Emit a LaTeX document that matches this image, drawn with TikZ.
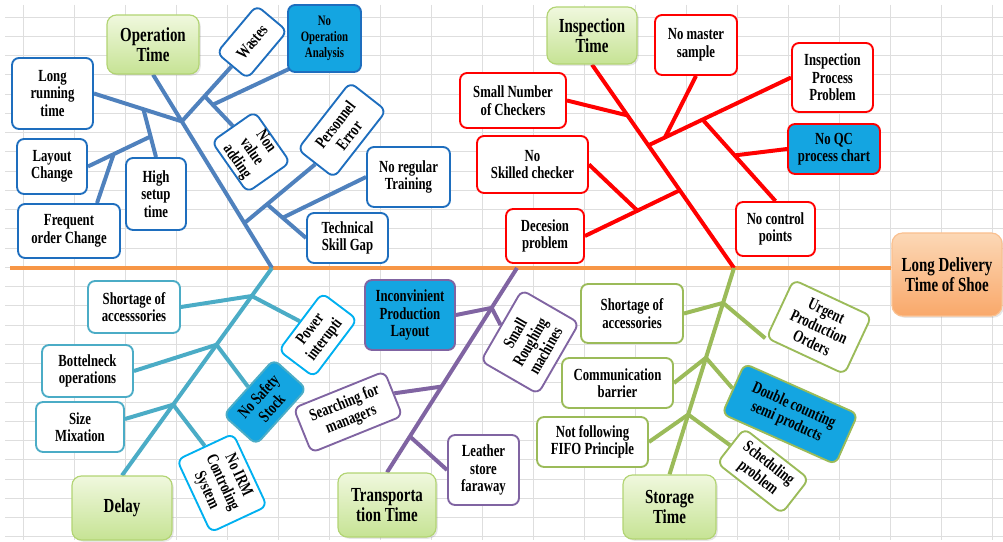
\documentclass[tikz,border=0pt]{standalone}
\usepackage{fontspec}
\setmainfont{Liberation Serif}[FakeStretch=0.75]
\usetikzlibrary{calc,shadows}

\definecolor{gridgray}{RGB}{222,222,222}
\definecolor{spineor}{RGB}{247,150,70}
\definecolor{opline}{RGB}{79,129,189}
\definecolor{opedge}{RGB}{30,110,190}
\definecolor{dlline}{RGB}{75,172,198}
\definecolor{dlbright}{RGB}{0,176,240}
\definecolor{trline}{RGB}{128,100,162}
\definecolor{stline}{RGB}{155,187,89}
\definecolor{hotblue}{RGB}{20,165,225}
\definecolor{titletop}{RGB}{240,248,222}
\definecolor{titlebot}{RGB}{198,227,148}
\definecolor{titleedge}{RGB}{178,212,115}
\definecolor{headtop}{RGB}{252,216,182}
\definecolor{headbot}{RGB}{249,168,106}
\definecolor{headedge}{RGB}{250,192,143}

\pgfdeclarelayer{grid}
\pgfdeclarelayer{bones}
\pgfsetlayers{grid,bones,main}

\begin{document}
\begin{tikzpicture}[
        x                   = 0.03cm,
        y                   = -0.03cm,
        cause/.style        = {draw=#1, line width=1.6pt, rounded corners=6pt, fill=white,
                               align=center, inner sep=1pt,
                               font=\bfseries\fontsize{14.5}{15}\selectfont},
        causehot/.style     = {cause=#1, fill=hotblue},
        bonetitle/.style    = {draw=titleedge, line width=1pt, rounded corners=8pt,
                               top color=titletop, bottom color=titlebot, align=center,
                               font=\bfseries\fontsize{17}{17.5}\selectfont,
                               drop shadow={opacity=0.2, shadow xshift=1.5pt, shadow yshift=-1.5pt}},
        effect/.style       = {draw=headedge, line width=1pt, rounded corners=9pt,
                               top color=headtop, bottom color=headbot, align=center,
                               font=\bfseries\fontsize{17}{17.5}\selectfont,
                               drop shadow={opacity=0.2, shadow xshift=1.5pt, shadow yshift=-1.5pt}},
        wh/.style 2 args    = {minimum width=#1*0.03cm, minimum height=#2*0.03cm},
        bone/.style         = {draw=#1, line width=3.4pt},
        gridline/.style     = {draw=gridgray, line width=0.7pt},
      ]
    \useasboundingbox (0,0) rectangle (1003,542);

    % sheet grid
    \begin{pgfonlayer}{grid}
        \foreach \gx in {0,...,19} \draw[gridline] (23+51*\gx,5) -- (23+51*\gx,540);
        \foreach \gy in {0,...,27} \draw[gridline] (5,17+19.25*\gy) -- (1003,17+19.25*\gy);
    \end{pgfonlayer}

    % effect
    \node[effect, wh={110}{83}] (head) at (947,274.5) {Long Delivery\\Time of Shoe};

    % Operation Time
    \node[bonetitle, wh={92}{59}] (optime) at (153,44.5) {Operation\\Time};
    \node[cause=opedge, wh={81}{71}] (longrun) at (52.5,93.5) {Long\\running\\time};
    \node[cause=opedge, wh={70}{55}] (layout) at (52,166.5) {Layout\\Change};
    \node[cause=opedge, wh={60}{72}] (setup) at (156,194) {High\\setup\\time};
    \node[cause=opedge, wh={102}{54}] (frequent) at (69,231) {Frequent\\order Change};
    \node[cause=opedge, wh={62}{40}, rotate=50] (wastes) at (252,42) {Wastes};
    \node[causehot=opedge, wh={73}{67}, font=\bfseries\fontsize{12.3}{13.5}\selectfont] (noopana) at (324.5,38.5) {No\\Operation\\Analysis};
    \node[cause=opedge, wh={62}{51}, rotate=-55] (nonvalue) at (251,152) {Non\\value\\adding};
    \node[cause=opedge, wh={85}{46}, rotate=52] (personnel) at (342,130) {Personnel\\Error};
    \node[cause=opedge, wh={83}{60}] (training) at (408.5,177) {No regular\\Training};
    \node[cause=opedge, wh={81}{50}] (skillgap) at (347.5,238) {Technical\\Skill Gap};

    % Inspection Time
    \node[bonetitle, wh={90}{57}] (insptime) at (592,35.5) {Inspection\\Time};
    \node[cause=red, wh={106}{55}] (checkers) at (513,100.5) {Small Number\\of Checkers};
    \node[cause=red, wh={111}{57}] (skilled) at (532.5,164.5) {No\\Skilled checker};
    \node[cause=red, wh={78}{54}] (decesion) at (545,236) {Decesion\\problem};
    \node[cause=red, wh={82}{60}] (master) at (696,45) {No master\\sample};
    \node[cause=red, wh={81}{69}] (process) at (832.5,77.5) {Inspection\\Process\\Problem};
    \node[causehot=red, wh={92}{50}] (qcchart) at (834,149) {No QC\\process chart};
    \node[cause=red, wh={79}{54}] (control) at (775.5,229) {No control\\points};

    % Delay
    \node[bonetitle, wh={100}{64}] (delay) at (122,508) {Delay};
    \node[cause=dlline, wh={92}{52}] (shortdl) at (134,307) {Shortage of\\accesssories};
    \node[cause=dlline, wh={91}{52}] (bottleneck) at (87.5,371) {Bottelneck\\operations};
    \node[cause=dlline, wh={88}{50}] (sizemix) at (80,427) {Size\\Mixation};
    \node[cause=dlbright, wh={72}{44}, rotate=53] (power) at (318,335) {Power\\interupti};
    \node[causehot=dlline, wh={75}{44}, rotate=48] (safety) at (265,402) {No Safety\\Stock};
    \node[cause=dlbright, wh={80}{62}, rotate=-65] (irm) at (222,483) {No IRM\\Controling\\System};

    % Transportation Time
    \node[bonetitle, wh={98}{64}] (transport) at (387,505) {Transporta\\tion Time};
    \node[causehot=trline, wh={90}{70}] (inconv) at (410,315) {Inconvinient\\Production\\Layout};
    \node[cause=trline, wh={82}{66}, rotate=60] (roughing) at (530,342) {Small\\Roughing\\machines};
    \node[cause=trline, wh={98}{48}, rotate=22] (searching) at (348,412) {Searching for\\managers};
    \node[cause=trline, wh={71}{70}] (leather) at (483.5,470) {Leather\\store\\faraway};

    % Storage Time
    \node[bonetitle, wh={93}{64}] (storage) at (669.5,507) {Storage\\Time};
    \node[cause=stline, wh={102}{59}] (shortst) at (632,313.5) {Shortage of\\accessories};
    \node[cause=stline, wh={111}{50}] (commbar) at (617.5,383) {Communication\\barrier};
    \node[cause=stline, wh={111}{50}] (fifo) at (592.5,442) {Not following\\FIFO Principle};
    \node[cause=stline, wh={86}{64}, rotate=-25] (urgent) at (819,327) {Urgent\\Production\\Orders};
    \node[causehot=stline, wh={124}{55}, rotate=-24] (doublecnt) at (790,414) {Double counting\\semi products};
    \node[cause=stline, wh={82}{44}, rotate=-38] (schedule) at (763,471) {Scheduling\\problem};

    \begin{pgfonlayer}{bones}
        % spine
        \coordinate (tail) at (10,268);
        \coordinate (jop) at (272,268);
        \coordinate (jtr) at (517,268);
        \coordinate (jin) at (734,268);
        \draw[bone=spineor] (tail) -- (tail -| head.west);

        % Operation Time bones
        \draw[bone=opline] (optime.south) -- (jop);
        \coordinate (op1) at ($(optime.south)!0.242!(jop)$);
        \coordinate (op2) at ($(optime.south)!0.768!(jop)$);
        \draw[bone=opline] (longrun.east) -- (op1);
        \coordinate (op3) at ($(longrun.east)!0.563!(op1)$);
        \draw[bone=opline] (op3) -- (setup.north);
        \coordinate (op4) at ($(op3)!0.57!(setup.north)$);
        \draw[bone=opline] (layout.east) -- (op4);
        \coordinate (op5) at ($(layout.east)!0.41!(op4)$);
        \draw[bone=opline] (op5) -- ($(frequent.north)+(28,0)$);
        \draw[bone=opline] (op1) -- (wastes.west);
        \coordinate (op6) at ($(op1)!0.46!(wastes.west)$);
        \draw[bone=opline] (op6) -- (nonvalue.west);
        \coordinate (op7) at ($(op6)!0.29!(nonvalue.west)$);
        \draw[bone=opline] (op7) -- ($(noopana.south west)+(2,-4)$);
        \draw[bone=opline] (op2) -- (personnel.west);
        \coordinate (op8) at ($(op2)!0.32!(personnel.west)$);
        \draw[bone=opline] (op8) -- (skillgap.west);
        \coordinate (op9) at ($(op8)!0.4!(skillgap.west)$);
        \draw[bone=opline] (op9) -- (training.west);

        % Inspection Time bones
        \draw[bone=red] (insptime.south) -- (jin);
        \coordinate (in1) at ($(insptime.south)!0.25!(jin)$);
        \coordinate (in2) at ($(insptime.south)!0.397!(jin)$);
        \coordinate (in3) at ($(insptime.south)!0.618!(jin)$);
        \draw[bone=red] (checkers.east) -- (in1);
        \draw[bone=red] (in2) -- (process.west);
        \coordinate (in4) at ($(in2)!0.116!(process.west)$);
        \draw[bone=red] (in4) -- (master.south);
        \coordinate (in5) at ($(in2)!0.38!(process.west)$);
        \draw[bone=red] (in5) -- (control.north);
        \coordinate (in6) at ($(in5)!0.44!(control.north)$);
        \draw[bone=red] (in6) -- (qcchart.west);
        \draw[bone=red] (in3) -- (decesion.east);
        \coordinate (in7) at ($(in3)!0.446!(decesion.east)$);
        \draw[bone=red] (in7) -- (skilled.east);

        % Delay bones
        \draw[bone=dlline] (delay.north) -- (jop);
        \coordinate (dl1) at ($(delay.north)!0.865!(jop)$);
        \coordinate (dl2) at ($(delay.north)!0.63!(jop)$);
        \coordinate (dl3) at ($(delay.north)!0.341!(jop)$);
        \draw[bone=dlline] (shortdl.east) -- (dl1);
        \draw[bone=dlline] (dl1) -- (power.north);
        \draw[bone=dlline] (bottleneck.east) -- (dl2);
        \draw[bone=dlline] (dl2) -- (safety.north);
        \draw[bone=dlline] ($(sizemix.east)+(0,-8)$) -- (dl3);
        \draw[bone=dlline] (dl3) -- (irm.west);

        % Transportation Time bones
        \draw[bone=trline] (transport.north) -- (jtr);
        \coordinate (tr1) at ($(transport.north)!0.805!(jtr)$);
        \coordinate (tr2) at ($(transport.north)!0.42!(jtr)$);
        \coordinate (tr3) at ($(transport.north)!0.176!(jtr)$);
        \draw[bone=trline] (inconv.east) -- (tr1);
        \draw[bone=trline] (tr1) -- (roughing.north);
        \draw[bone=trline] (searching.east) -- (tr2);
        \draw[bone=trline] (tr3) -- (leather.west);

        % Storage Time bones
        \draw[bone=stline] (storage.north) -- (jin);
        \coordinate (st1) at ($(storage.north)!0.831!(jin)$);
        \coordinate (st2) at ($(storage.north)!0.565!(jin)$);
        \coordinate (st3) at ($(storage.north)!0.29!(jin)$);
        \draw[bone=stline] (shortst.east) -- (st1);
        \draw[bone=stline] (st1) -- (urgent.south west);
        \draw[bone=stline] (commbar.east) -- (st2);
        \draw[bone=stline] (st2) -- (doublecnt.west);
        \draw[bone=stline] (fifo.east) -- (st3);
        \draw[bone=stline] (st3) -- (schedule.west);
    \end{pgfonlayer}
\end{tikzpicture}
\end{document}
